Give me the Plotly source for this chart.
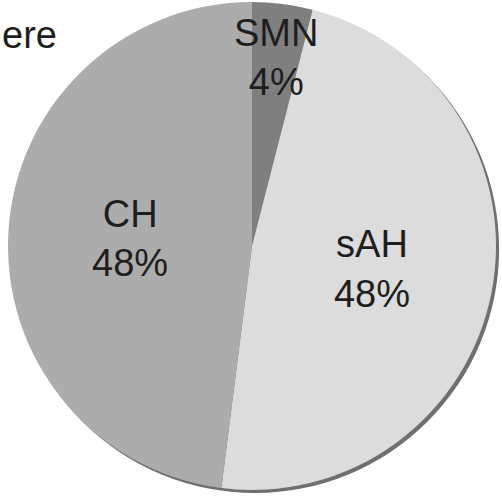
import math
import plotly.graph_objects as go

# Slice data
labels = ["SMN", "sAH", "CH"]
values = [4, 48, 48]
colors = ["#7f7f7f", "#dcdcdc", "#acacac"]

W, H = 502, 496
R = 244            # pie radius in px
CX, CY = 252, 246  # pie centre in px (from top-left)
SH = 3             # drop-shadow offset in px

FONT = "Liberation Sans, Arial, sans-serif"
FS = 38


def dom(cx, cy, r):
    return dict(x=[(cx - r) / W, (cx + r) / W],
                y=[1 - (cy + r) / H, 1 - (cy - r) / H])


fig = go.Figure()

# soft shadow under the pie
fig.add_trace(go.Pie(
    values=[sum(values)], labels=["shadow"], sort=False,
    marker=dict(colors=["#6f6f6f"], line=dict(width=0)),
    textinfo="none", hoverinfo="skip", showlegend=False,
    domain=dom(CX + SH, CY + SH, R),
))

fig.add_trace(go.Pie(
    labels=labels, values=values, sort=False,
    direction="clockwise", rotation=0,
    marker=dict(colors=colors, line=dict(width=0)),
    texttemplate="%{label}<br>%{percent:.0%}",
    textposition=["none", "inside", "inside"],
    insidetextorientation="horizontal",
    insidetextfont=dict(family=FONT, size=FS, color="#1e1e1e"),
    showlegend=False,
    domain=dom(CX, CY, R),
))

# label for the narrow slice, placed along its bisector
total = sum(values)
ang = math.radians(360 * values[0] / total / 2)
lx = CX + 0.78 * R * math.sin(ang)
ly = CY - 0.78 * R * math.cos(ang)
fig.add_annotation(
    x=lx / W, y=1 - ly / H, xref="paper", yref="paper",
    xanchor="center", yanchor="middle",
    text=f"{labels[0]}<br>{round(100 * values[0] / total)}%",
    showarrow=False, font=dict(family=FONT, size=FS, color="#1e1e1e"),
)

# title fragment at top-left
fig.add_annotation(
    x=0, y=1 - 12 / H, xref="paper", yref="paper",
    xanchor="left", yanchor="top", xshift=0,
    text="ere", showarrow=False,
    font=dict(family=FONT, size=FS, color="#1e1e1e"),
)

fig.update_layout(
    width=W, height=H,
    margin=dict(l=0, r=0, t=0, b=0),
    paper_bgcolor="white", plot_bgcolor="white",
)

fig.write_html("out.html")
